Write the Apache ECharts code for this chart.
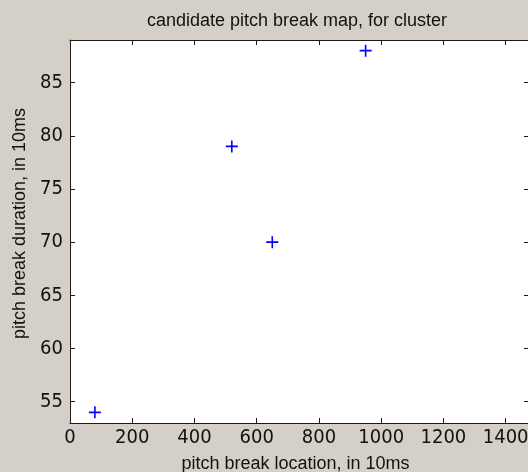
<!DOCTYPE html>
<html>
<head>
<meta charset="utf-8">
<script src="https://cdn.jsdelivr.net/npm/echarts@6/dist/echarts.min.js"></script>
<style>
html,body{margin:0;padding:0;background:#d4d0c8;}
#chart{width:528px;height:472px;}
</style>
</head>
<body>
<div id="chart"></div>
<script>
const titleText = 'candidate pitch break map, for cluster';
const xName = 'pitch break location, in 10ms';
const yName = 'pitch break duration, in 10ms';
const locations = [80, 520, 650, 950];
const durations = [54, 79, 70, 88];
const xTicks = [0, 200, 400, 600, 800, 1000, 1200, 1400];
const yTicks = [55, 60, 65, 70, 75, 80, 85];
const xRange = [0, 1475];
const yRange = [53, 89];

const points = locations.map((x, i) => [x, durations[i]]);
const font = 'Liberation Sans';
const tickFont = '"Liberation Sans Narrow", "DejaVu Sans Condensed", "Liberation Sans"';
const axisCol = '#1a1a1a';

function xAx(pos, labels) {
  return {
    type: 'value', position: pos, min: xRange[0], max: xRange[1],
    splitLine: {show: false},
    axisLine: {show: true, onZero: false, lineStyle: {color: axisCol, width: 1}},
    axisTick: {show: true, inside: true, length: 5, customValues: xTicks, lineStyle: {color: axisCol}},
    axisLabel: {show: labels, customValues: xTicks, margin: 5, color: '#111', fontFamily: tickFont, fontSize: 20,
      formatter: v => String(v)},
    name: labels ? xName : '', nameLocation: 'middle', nameGap: 32,
    nameTextStyle: {color: '#111', fontFamily: font, fontSize: 18, padding: [0, 8, 0, 0]}
  };
}
function yAx(pos, labels) {
  return {
    type: 'value', position: pos, min: yRange[0], max: yRange[1],
    splitLine: {show: false},
    axisLine: {show: true, onZero: false, lineStyle: {color: axisCol, width: 1}},
    axisTick: {show: true, inside: true, length: 5, customValues: yTicks, lineStyle: {color: axisCol}},
    axisLabel: {show: labels, customValues: yTicks, margin: 7, color: '#111', fontFamily: tickFont, fontSize: 20},
    name: labels ? yName : '', nameLocation: 'middle', nameGap: 37,
    nameTextStyle: {color: '#111', fontFamily: font, fontSize: 18, padding: [0, 0, 0, 16]}
  };
}

const chart = echarts.init(document.getElementById('chart'), null, {renderer: 'canvas'});
chart.setOption({
  backgroundColor: '#d4d0c8',
  animation: false,
  title: {
    text: titleText, left: 292, textAlign: 'center', top: 7,
    textStyle: {color: '#111', fontFamily: font, fontSize: 18, fontWeight: 'normal'}
  },
  grid: {left: 70, top: 40, right: -1, bottom: 49, show: true, backgroundColor: '#ffffff', borderWidth: 0,
    containLabel: false, outerBoundsMode: 'none'},
  xAxis: [xAx('bottom', true), xAx('top', false)],
  yAxis: [yAx('left', true), yAx('right', false)],
  series: [{
    type: 'scatter',
    data: points,
    symbol: 'path://M0,6L12,6M6,0L6,12',
    symbolSize: 12,
    itemStyle: {color: 'rgba(0,0,0,0)', borderColor: '#0000ff', borderWidth: 1.6, opacity: 1}
  }]
});
</script>
</body>
</html>
